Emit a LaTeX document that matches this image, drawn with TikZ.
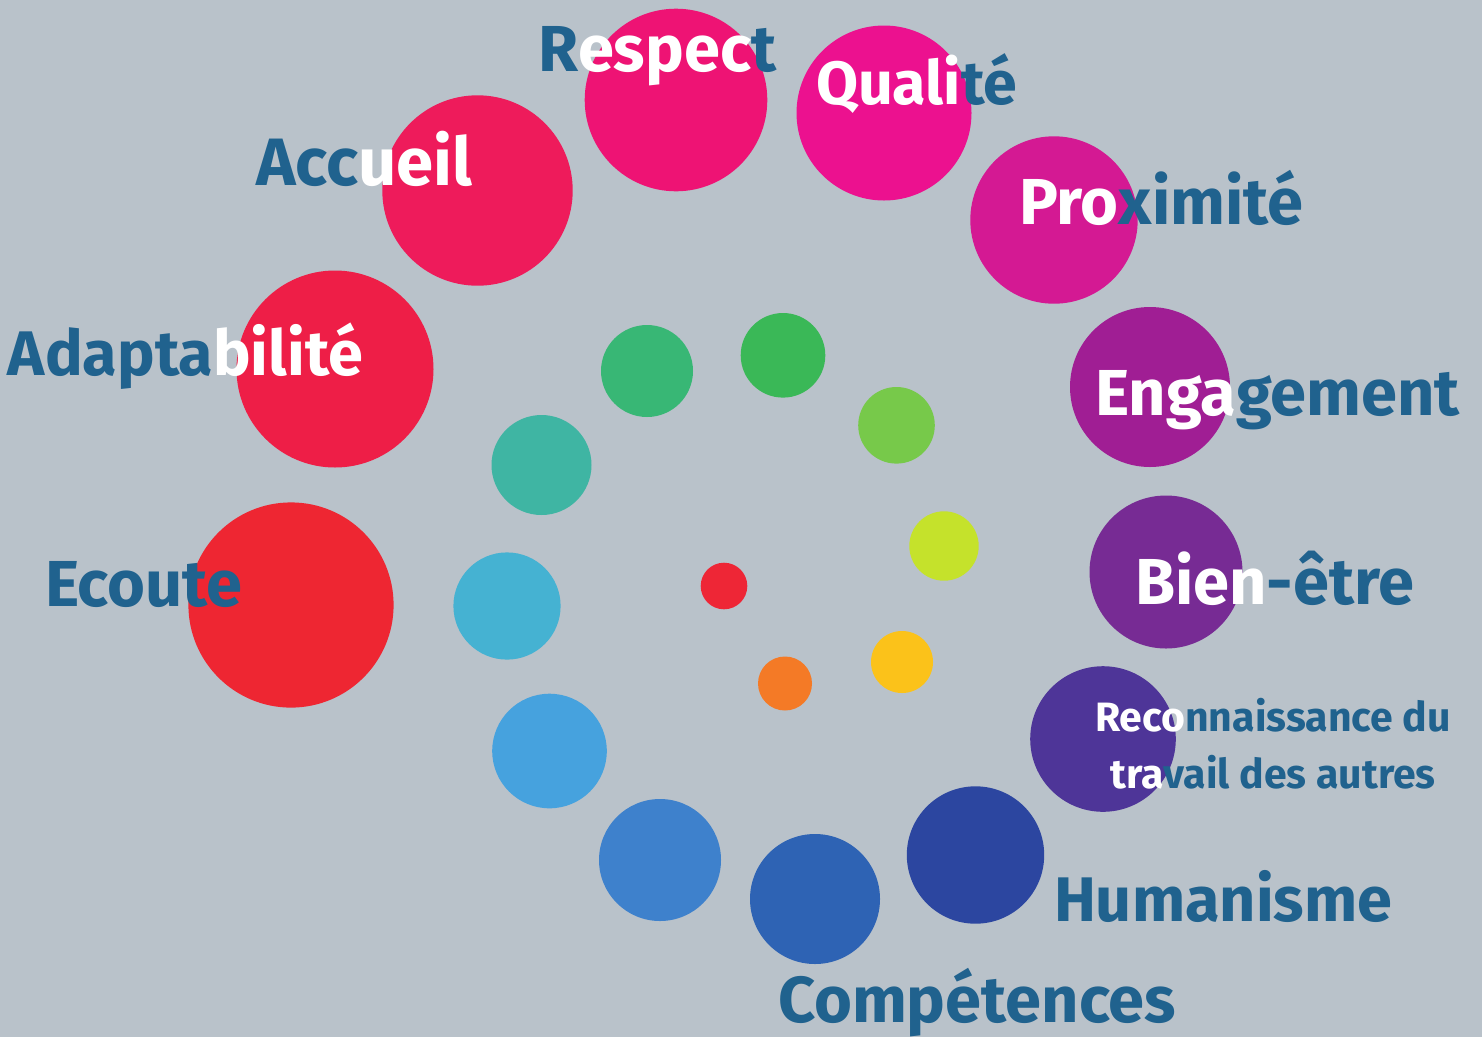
\documentclass[tikz,border=0pt]{standalone}
\usepackage{fontspec}
\newfontfamily\lblfont{Fira Sans}
\definecolor{bgc}{HTML}{B9C2CA}
\definecolor{txtblue}{HTML}{20628E}
\definecolor{c01}{HTML}{EE2636}
\definecolor{c02}{HTML}{F47A26}
\definecolor{c03}{HTML}{FBC21A}
\definecolor{c04}{HTML}{C5E22B}
\definecolor{c05}{HTML}{77C94A}
\definecolor{c06}{HTML}{3AB857}
\definecolor{c07}{HTML}{38B775}
\definecolor{c08}{HTML}{3FB5A3}
\definecolor{c09}{HTML}{45B2D2}
\definecolor{c10}{HTML}{46A2DE}
\definecolor{c11}{HTML}{3E81CC}
\definecolor{c12}{HTML}{2E63B4}
\definecolor{c13}{HTML}{2C46A0}
\definecolor{c14}{HTML}{4E3598}
\definecolor{c15}{HTML}{772B94}
\definecolor{c16}{HTML}{A01E94}
\definecolor{c17}{HTML}{D41993}
\definecolor{c18}{HTML}{EC118F}
\definecolor{c19}{HTML}{EE1374}
\definecolor{c20}{HTML}{EE1B5B}
\definecolor{c21}{HTML}{EE1E47}
\definecolor{c22}{HTML}{EE2632}
\newcommand\wh[1]{\textcolor{white}{#1}}
\newcommand\lsize[1]{\lblfont\bfseries\fontsize{#1}{#1}\selectfont}
\tikzset{
  dot/.style={circle, inner sep=0pt, outer sep=0pt, draw=none},
  lbl/.style={anchor=base west, inner sep=0pt, outer sep=0pt, text=txtblue,
    font=\lsize{65}},
  lblsmall/.style={anchor=base, inner sep=0pt, outer sep=0pt, text=txtblue,
    font=\lsize{41}}
}
\begin{document}
\begin{tikzpicture}[x=1pt,y=-1pt]
\fill[bgc] (0,0) rectangle (1482,1037);
\useasboundingbox (0,0) rectangle (1482,1037);
% spiral of dots
\node[dot, fill=c01, minimum size=46.6pt] (d01) at (724,586) {};
\node[dot, fill=c02, minimum size=54pt] (d02) at (785,683.5) {};
\node[dot, fill=c03, minimum size=62pt] (d03) at (902,662) {};
\node[dot, fill=c04, minimum size=69.4pt] (d04) at (944,546) {};
\node[dot, fill=c05, minimum size=76.6pt] (d05) at (896.5,425.3) {};
\node[dot, fill=c06, minimum size=84.6pt] (d06) at (783,355.3) {};
\node[dot, fill=c07, minimum size=92pt] (d07) at (647,371) {};
\node[dot, fill=c08, minimum size=100pt] (d08) at (541.5,465) {};
\node[dot, fill=c09, minimum size=107.2pt] (d09) at (507,606) {};
\node[dot, fill=c10, minimum size=114.6pt] (d10) at (549.5,751) {};
\node[dot, fill=c11, minimum size=122pt] (d11) at (660,860) {};
\node[dot, fill=c12, minimum size=130pt] (d12) at (815,899) {};
\node[dot, fill=c13, minimum size=137.4pt] (d13) at (975.5,855) {};
\node[dot, fill=c14, minimum size=145.6pt] (d14) at (1103,739) {};
\node[dot, fill=c15, minimum size=153pt] (d15) at (1166,572) {};
\node[dot, fill=c16, minimum size=160pt] (d16) at (1150,387) {};
\node[dot, fill=c17, minimum size=167.4pt] (d17) at (1054,220) {};
\node[dot, fill=c18, minimum size=175pt] (d18) at (884,113) {};
\node[dot, fill=c19, minimum size=182.6pt] (d19) at (676,100) {};
\node[dot, fill=c20, minimum size=190.4pt] (d20) at (477.5,190.5) {};
\node[dot, fill=c21, minimum size=197pt] (d21) at (335,369) {};
\node[dot, fill=c22, minimum size=205.2pt] (d22) at (291,605) {};
% labels
\node[lbl] (respect) at (538,71.7) {R\wh{espec}t};
\node[lbl, font=\lsize{61}] (qualite) at (816,104) {\wh{Quali}té};
\node[lbl] (proximite) at (1019,224.3) {\wh{Pro}ximité};
\node[lbl] (engagement) at (1095,415) {\wh{Enga}gement};
\node[lbl] (bienetre) at (1135,604) {\wh{Bien}-être};
\node[lblsmall] (recon1) at (1273,731.7) {\wh{Reco}nnaissance du};
\node[lblsmall] (recon2) at (1273,788.3) {\wh{tra}vail des autres};
\node[lbl, font=\lsize{63}] (humanisme) at (1054,921.7) {Humanisme};
\node[lbl] (competences) at (778,1022) {Compétences};
\node[lbl] (ecoute) at (45,606.7) {Ecoute};
\node[lbl, font=\lsize{63}] (adaptabilite) at (8,375) {Adapta\wh{bilité}};
\node[lbl, font=\lsize{67}] (accueil) at (256,185) {Acc\wh{ueil}};
\end{tikzpicture}
\end{document}
